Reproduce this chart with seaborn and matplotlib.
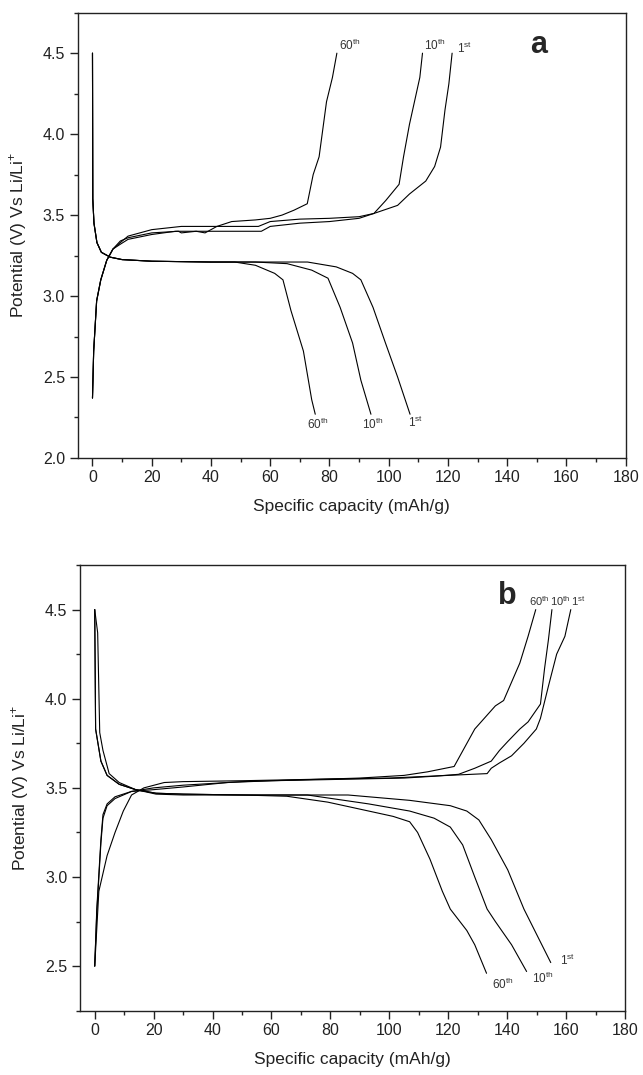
import numpy as np
import pandas as pd
import matplotlib
matplotlib.use("Agg")
import matplotlib.pyplot as plt
from matplotlib.ticker import MultipleLocator
import seaborn as sns

# ---- panel a : charge / discharge curves (capacity mAh/g, potential V)
a_cap_chg_60 = [0, 0.4, 1.4, 2.8, 4.8, 6.9, 9.4, 12, 20, 29, 30, 35, 38, 42, 47, 55, 60, 64, 68, 72.5, 74.5, 76.5, 79, 81, 82.5]
a_pot_chg_60 = [2.37, 2.66, 2.97, 3.10, 3.22, 3.29, 3.34, 3.36, 3.39, 3.40, 3.39, 3.40, 3.39, 3.43, 3.46, 3.47, 3.48, 3.50, 3.53, 3.57, 3.75, 3.86, 4.20, 4.35, 4.50]
a_cap_chg_10 = [0, 0.4, 1.4, 2.8, 4.8, 6.9, 9.4, 12, 20, 30, 45, 56, 60, 70, 80, 90, 95, 99, 103.5, 105, 107, 110.5, 111.4]
a_pot_chg_10 = [2.37, 2.66, 2.97, 3.10, 3.22, 3.29, 3.33, 3.37, 3.41, 3.43, 3.43, 3.43, 3.46, 3.475, 3.48, 3.49, 3.51, 3.59, 3.69, 3.86, 4.06, 4.35, 4.50]
a_cap_chg_1 = [0, 0.4, 1.4, 2.8, 4.8, 6.9, 9.4, 12, 20, 28, 40, 57, 60, 70, 80, 90, 95, 103, 107, 112.5, 115.5, 117.5, 119, 120.3, 121.4]
a_pot_chg_1 = [2.37, 2.66, 2.97, 3.10, 3.22, 3.29, 3.32, 3.35, 3.38, 3.40, 3.40, 3.40, 3.43, 3.45, 3.46, 3.48, 3.51, 3.56, 3.63, 3.71, 3.80, 3.92, 4.15, 4.31, 4.50]

a_cap_dis_60 = [0, 0.1, 0.5, 1.5, 3, 6, 10, 20, 40, 48, 55, 61.5, 64.3, 67, 71.2, 74, 75.2]
a_pot_dis_60 = [4.50, 3.60, 3.45, 3.33, 3.27, 3.24, 3.225, 3.215, 3.21, 3.21, 3.19, 3.14, 3.10, 2.91, 2.66, 2.36, 2.27]
a_cap_dis_10 = [0, 0.1, 0.5, 1.5, 3, 6, 10, 20, 40, 55, 65.7, 74, 79.5, 83.6, 87.8, 90.6, 94]
a_pot_dis_10 = [4.50, 3.60, 3.45, 3.33, 3.27, 3.24, 3.225, 3.215, 3.21, 3.21, 3.20, 3.16, 3.11, 2.93, 2.71, 2.48, 2.27]
a_cap_dis_1 = [0, 0.1, 0.5, 1.5, 3, 6, 10, 20, 40, 60, 72.6, 82.3, 87.8, 90.6, 94.7, 98.9, 103, 107.2]
a_pot_dis_1 = [4.50, 3.60, 3.45, 3.33, 3.27, 3.24, 3.225, 3.215, 3.21, 3.21, 3.21, 3.18, 3.14, 3.10, 2.93, 2.71, 2.50, 2.27]

# ---- panel b
b_cap_chg_60 = [0, 0.7, 2.1, 2.8, 4.2, 6.9, 12.5, 20, 30, 40, 50, 70, 90, 105, 113, 122, 129, 136, 138.8, 144.3, 147.1, 149.7]
b_pot_chg_60 = [2.50, 2.82, 3.21, 3.35, 3.41, 3.45, 3.48, 3.50, 3.515, 3.525, 3.535, 3.545, 3.555, 3.57, 3.59, 3.62, 3.83, 3.96, 3.99, 4.20, 4.35, 4.50]
b_cap_chg_10 = [0, 0.7, 2.1, 2.8, 4.2, 6.9, 12.5, 20, 30, 45, 60, 90, 105, 115, 123.5, 129, 134.6, 137.4, 140.2, 144.3, 147.1, 151.3, 152.7, 154, 155.2]
b_pot_chg_10 = [2.50, 2.80, 3.19, 3.33, 3.40, 3.44, 3.48, 3.49, 3.505, 3.53, 3.54, 3.55, 3.555, 3.565, 3.576, 3.61, 3.65, 3.71, 3.76, 3.83, 3.87, 3.97, 4.17, 4.33, 4.50]
b_cap_chg_1 = [0, 1.4, 4.2, 6.9, 9.7, 12.5, 16.7, 23.6, 30, 50, 80, 100, 120, 133.2, 134.6, 137.4, 141.5, 145.7, 149.9, 151.3, 154, 156.8, 159.6, 161.6]
b_pot_chg_1 = [2.50, 2.92, 3.12, 3.25, 3.37, 3.46, 3.50, 3.53, 3.535, 3.54, 3.55, 3.555, 3.57, 3.58, 3.61, 3.64, 3.68, 3.75, 3.83, 3.89, 4.07, 4.25, 4.35, 4.50]

b_cap_dis_60 = [0, 1.0, 1.7, 2.8, 4.9, 8.3, 13.9, 20.8, 30, 50, 65.2, 79.1, 93, 101.3, 106.9, 109.6, 113.8, 118, 120.7, 126.3, 129, 133]
b_pot_dis_60 = [4.50, 4.37, 3.81, 3.71, 3.58, 3.53, 3.49, 3.47, 3.465, 3.46, 3.453, 3.42, 3.37, 3.34, 3.31, 3.25, 3.10, 2.92, 2.82, 2.70, 2.62, 2.46]
b_cap_dis_10 = [0, 0.3, 2.1, 4.2, 8.3, 13.9, 20.8, 30, 50, 72.2, 93, 106.9, 115.2, 120.7, 124.9, 129, 133.2, 136, 141.5, 146.6]
b_pot_dis_10 = [4.50, 3.83, 3.65, 3.57, 3.52, 3.49, 3.47, 3.465, 3.46, 3.46, 3.41, 3.37, 3.33, 3.28, 3.18, 3.00, 2.82, 2.75, 2.62, 2.47]
b_cap_dis_1 = [0, 0.3, 2.1, 4.2, 8.3, 13.9, 20.8, 30, 50, 70, 86, 106.9, 120.7, 126.3, 130.4, 134.6, 140.2, 145.7, 154.8]
b_pot_dis_1 = [4.50, 3.83, 3.65, 3.57, 3.52, 3.49, 3.465, 3.46, 3.46, 3.46, 3.46, 3.43, 3.40, 3.37, 3.32, 3.21, 3.04, 2.82, 2.52]

# ---- annotations (text, x, y, size)
a_labels = [("60$^{\\rm th}$", 83.2, 4.55, 8.5), ("10$^{\\rm th}$", 112.0, 4.55, 8.5), ("1$^{\\rm st}$", 123.0, 4.53, 8.5),
            ("60$^{\\rm th}$", 72.4, 2.21, 8.5), ("10$^{\\rm th}$", 91.0, 2.21, 8.5), ("1$^{\\rm st}$", 106.4, 2.22, 8.5)]
b_labels = [("60$^{\\rm th}$", 147.4, 4.55, 8), ("10$^{\\rm th}$", 154.6, 4.55, 8), ("1$^{\\rm st}$", 161.8, 4.55, 8),
            ("60$^{\\rm th}$", 135.0, 2.40, 8.5), ("10$^{\\rm th}$", 148.3, 2.43, 8.5), ("1$^{\\rm st}$", 157.8, 2.53, 8.5)]


def to_frame(curves):
    rows = []
    for name, cap, pot in curves:
        for c, p in zip(cap, pot):
            rows.append((name, c, p))
    return pd.DataFrame(rows, columns=["curve", "capacity", "potential"])


df_a = to_frame([("chg60", a_cap_chg_60, a_pot_chg_60), ("chg10", a_cap_chg_10, a_pot_chg_10),
                 ("chg1", a_cap_chg_1, a_pot_chg_1), ("dis60", a_cap_dis_60, a_pot_dis_60),
                 ("dis10", a_cap_dis_10, a_pot_dis_10), ("dis1", a_cap_dis_1, a_pot_dis_1)])
df_b = to_frame([("chg60", b_cap_chg_60, b_pot_chg_60), ("chg10", b_cap_chg_10, b_pot_chg_10),
                 ("chg1", b_cap_chg_1, b_pot_chg_1), ("dis60", b_cap_dis_60, b_pot_dis_60),
                 ("dis10", b_cap_dis_10, b_pot_dis_10), ("dis1", b_cap_dis_1, b_pot_dis_1)])

sns.set_style("ticks")
plt.rcParams["font.family"] = ["Liberation Sans", "DejaVu Sans"]
plt.rcParams["mathtext.fontset"] = "custom"
plt.rcParams["mathtext.rm"] = "Liberation Sans"

fig = plt.figure(figsize=(6.43, 10.75), dpi=100)
ax_a = fig.add_axes([0.1208, 0.5740, 0.8523, 0.4142])
ax_b = fig.add_axes([0.1244, 0.0598, 0.8476, 0.4146])

panels = [(ax_a, df_a, a_labels, (2.0, 4.75), "a", (150.5, 4.50)),
          (ax_b, df_b, b_labels, (2.25, 4.75), "b", (140.0, 4.53))]

for ax, df, labels, ylim, tag, tagpos in panels:
    sns.lineplot(data=df, x="capacity", y="potential", units="curve", estimator=None,
                 sort=False, color="black", lw=0.8, ax=ax)
    ax.set_xlim(-5, 180)
    ax.set_ylim(*ylim)
    ax.xaxis.set_major_locator(MultipleLocator(20))
    ax.xaxis.set_minor_locator(MultipleLocator(10))
    ax.yaxis.set_major_locator(MultipleLocator(0.5))
    ax.yaxis.set_minor_locator(MultipleLocator(0.25))
    ax.tick_params(which="both", direction="out", top=False, right=False, width=1.0,
                   labelsize=11.5, colors="#222222", labelcolor="#222222")
    ax.tick_params(which="major", length=5.5)
    ax.tick_params(which="minor", length=3.2)
    for s in ax.spines.values():
        s.set_visible(True)
        s.set_linewidth(1.0)
        s.set_color("#222222")
    ax.set_xlabel("Specific capacity (mAh/g)", fontsize=12.5, labelpad=10, color="#222222")
    ax.set_ylabel("Potential (V) Vs Li/Li$^{+}$", fontsize=12.5, labelpad=10, color="#222222")
    for txt, x, y, fs in labels:
        ax.text(x, y, txt, fontsize=fs, ha="left", va="center", color="#333333")
    ax.text(tagpos[0], tagpos[1], tag, fontsize=22, fontweight="bold", ha="center", va="baseline")

fig.savefig("out.png", dpi=100)
